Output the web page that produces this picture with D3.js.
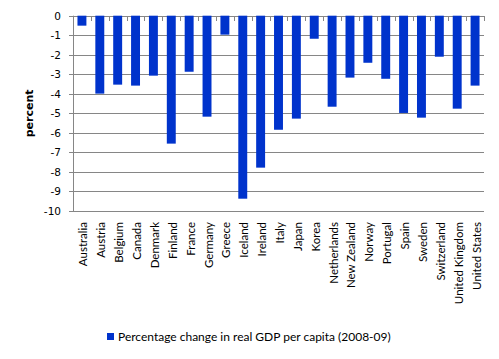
<!DOCTYPE html>
<html><head><meta charset="utf-8">
<script src="https://cdn.jsdelivr.net/npm/d3@7"></script>
<style>body{margin:0;background:#fff}</style>
</head><body>
<svg id="c" width="499" height="359"></svg>
<script>
const categories = ["Australia","Austria","Belgium","Canada","Denmark","Finland","France","Germany","Greece","Iceland","Ireland","Italy","Japan","Korea","Netherlands","New Zealand","Norway","Portugal","Spain","Sweden","Switzerland","United Kingdom","United States"];
const values = [-0.51,-3.99,-3.53,-3.58,-3.07,-6.55,-2.87,-5.17,-0.97,-9.37,-7.78,-5.84,-5.27,-1.18,-4.66,-3.17,-2.41,-3.23,-4.98,-5.22,-2.1,-4.76,-3.58];
const yTicks = [0,-1,-2,-3,-4,-5,-6,-7,-8,-9,-10];
const seriesName = "Percentage change in real GDP per capita (2008-09)";

const svg = d3.select("#c");
const L = 73, R = 484, T = 15.7, B = 211;
const x = d3.scaleBand().domain(categories).range([L, R]).paddingInner(0.5).paddingOuter(0.25);
const y = d3.scaleLinear().domain([-10, 0]).range([B, T]);
const grid = "#868686";

// gridlines
svg.append("g").selectAll("line").data(yTicks).join("line")
  .attr("x1", L - 4).attr("x2", R).attr("y1", d => Math.round(y(d)) + 0.5).attr("y2", d => Math.round(y(d)) + 0.5)
  .attr("stroke", grid).attr("stroke-width", 1);
// left axis
svg.append("line").attr("x1", L + 0.5).attr("x2", L + 0.5).attr("y1", y(0)).attr("y2", y(-10) + 0.5)
  .attr("stroke", grid);
// y tick labels
svg.append("g").selectAll("text").data(yTicks).join("text")
  .attr("x", L - 12).attr("y", d => y(d) + 4)
  .attr("text-anchor", "end").attr("font-family", "DejaVu Sans, Verdana").attr("font-size", 10.5).attr("fill", "#000")
  .text(d => d);
// bars
svg.append("g").selectAll("rect").data(values).join("rect")
  .attr("x", (d, i) => x(categories[i])).attr("width", x.bandwidth())
  .attr("y", y(0)).attr("height", d => y(d) - y(0))
  .attr("fill", "#0033CC");
// category tick marks at zero line
const bounds = d3.range(categories.length + 1).map(i => L + i * (R - L) / categories.length);
svg.append("g").selectAll("line").data(bounds).join("line")
  .attr("x1", d => Math.round(d) + 0.5).attr("x2", d => Math.round(d) + 0.5)
  .attr("y1", Math.round(y(0))).attr("y2", Math.round(y(0)) + 5).attr("stroke", grid);
// category labels
svg.append("g").selectAll("text").data(categories).join("text")
  .attr("transform", d => `translate(${x(d) + x.bandwidth()/2 + 5.5},222) rotate(-90)`)
  .attr("text-anchor", "end").attr("font-family", "Lato, Carlito, sans-serif").attr("font-size", 11.5).attr("fill", "#000")
  .text(d => d);
// y axis title
svg.append("text").attr("transform", `translate(33,${(T + B) / 2}) rotate(-90)`)
  .attr("text-anchor", "middle").attr("font-family", "DejaVu Sans, Verdana").attr("font-weight", "bold")
  .attr("font-size", 11).text("percent");
// legend
svg.append("rect").attr("x", 107).attr("y", 333).attr("width", 7).attr("height", 7).attr("fill", "#0033CC");
svg.append("text").attr("x", 118).attr("y", 341).attr("font-family", "Lato, Carlito, sans-serif").attr("font-size", 12)
  .text(seriesName);
</script>
</body></html>
